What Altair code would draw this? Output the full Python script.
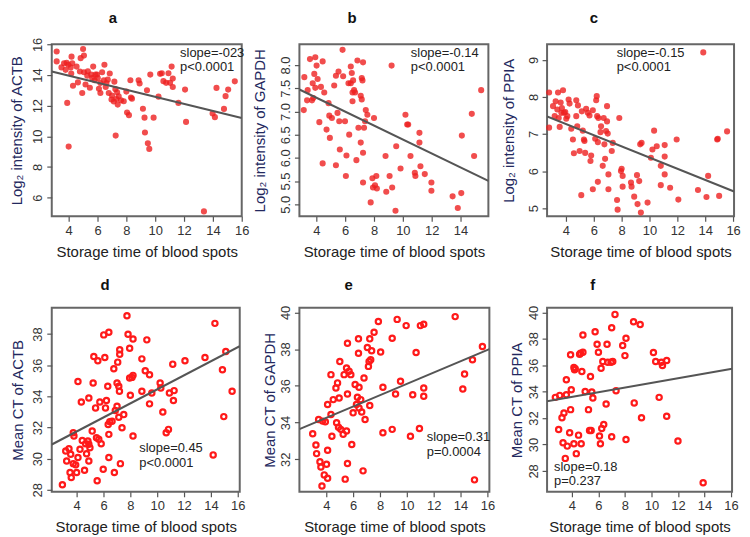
import altair as alt
import pandas as pd

FONT = "Liberation Sans"

# ---------------- data ----------------
a_x = [3.17, 3.17, 3.5, 3.68, 3.86, 3.98, 4.14, 4.18, 3.9, 4.0, 4.2, 4.3, 4.55, 4.64, 4.94, 5.0, 5.06, 5.06,
       5.17, 5.33, 5.47, 5.56, 5.63, 5.7, 5.8, 5.86, 6.02, 6.1, 6.2, 6.32, 6.44, 6.48, 6.57, 6.62, 6.71, 6.78,
       6.85, 6.97, 7.01, 7.13, 7.17, 7.24, 7.26, 7.31, 7.36, 7.4, 7.47, 7.63, 7.82, 8.0, 8.05, 8.18, 8.28, 8.32,
       8.39, 8.85, 8.92, 9.15, 9.26, 9.29, 9.43, 9.49, 9.59, 9.66, 9.89, 10.23, 10.34, 10.46, 10.57, 10.76,
       10.92, 11.03, 11.14, 11.22, 11.22, 11.61, 12.07, 12.14, 13.98, 14.14, 14.25, 14.77, 14.88, 15.06, 15.52,
       13.38, 3.79, 4.25, 4.83, 4.78, 5.29, 5.97, 6.2]
a_y = [15.54, 14.89, 14.5, 14.77, 14.8, 14.67, 14.5, 14.1, 12.18, 9.33, 15.2, 13.3, 14.55, 13.52, 12.83, 15.7,
       15.27, 14.18, 13.38, 14.25, 13.17, 14.03, 13.81, 14.55, 13.66, 14.03, 13.81, 13.1, 12.83, 14.18, 13.66,
       14.67, 13.22, 13.48, 13.7, 12.83, 14.1, 12.4, 12.66, 12.27, 13.57, 13.08, 10.05, 12.44, 12.87, 12.07,
       12.61, 12.35, 12.29, 12.92, 11.55, 11.38, 13.66, 12.53, 12.46, 13.66, 13.45, 11.8, 11.22, 10.25, 13.01,
       9.55, 9.18, 14.03, 11.22, 12.59, 14.08, 14.12, 13.6, 13.49, 14.12, 13.49, 14.55, 13.77, 13.22, 12.18,
       13.05, 10.94, 11.49, 11.25, 13.16, 11.79, 12.62, 13.05, 13.59, 5.1, 14.34, 14.77, 15.1, 14.23, 13.96,
       14.03, 13.48]

b_x = [3.17, 3.13, 3.4, 3.36, 3.56, 3.7, 3.75, 3.79, 3.86, 3.93, 3.93, 4.02, 4.09, 4.21, 4.32, 4.44, 4.44, 4.55,
       4.71, 4.85, 4.9, 4.94, 5.08, 5.24, 5.36, 5.36, 5.47, 5.54, 5.59, 5.63, 5.86, 5.82, 5.99, 6.05, 6.09, 6.23,
       6.28, 6.39, 6.39, 6.46, 6.51, 6.51, 6.55, 6.62, 6.69, 6.78, 6.85, 6.92, 7.08, 7.08, 7.15, 7.15, 7.2, 7.24,
       7.24, 7.24, 7.31, 7.38, 7.43, 7.54, 7.77, 7.89, 7.93, 8.0, 8.07, 8.16, 8.2, 8.8, 8.85, 9.08, 9.22, 9.26,
       9.54, 9.49, 9.84, 10.18, 10.3, 10.37, 10.53, 10.83, 10.87, 11.15, 11.15, 11.22, 11.52, 11.98, 11.98,
       13.45, 13.81, 14.05, 14.09, 14.78, 14.94, 15.43]
b_y = [7.74, 7.03, 7.46, 7.24, 8.13, 7.24, 7.61, 7.29, 7.81, 8.17, 7.51, 7.99, 7.7, 6.77, 7.53, 8.08, 5.88, 7.41,
       6.61, 7.18, 6.91, 6.43, 6.86, 7.56, 7.77, 5.84, 6.97, 7.86, 6.79, 6.18, 7.76, 8.33, 6.79, 5.61, 6.05, 7.61,
       6.5, 7.97, 7.61, 7.83, 7.41, 7.22, 7.67, 7.46, 7.41, 5.95, 8.1, 6.65, 7.34, 6.33, 7.72, 7.26, 7.67, 8.06,
       6.11, 5.47, 6.65, 6.79, 7.03, 6.93, 5.04, 5.56, 5.36, 6.86, 5.41, 5.61, 5.34, 6.04, 5.27, 5.61, 7.99, 5.36,
       6.25, 4.86, 5.77, 6.93, 6.72, 6.72, 6.04, 5.68, 5.61, 6.54, 6.33, 5.82, 5.65, 5.47, 5.29, 5.17, 4.92, 5.24,
       6.48, 6.95, 6.04, 7.46]

c_x = [2.79, 2.79, 3.07, 3.19, 3.26, 3.38, 3.43, 3.48, 3.55, 3.62, 3.67, 3.71, 3.79, 3.86, 3.95, 4.02, 4.1, 4.19,
       4.26, 4.38, 4.5, 4.57, 4.74, 4.74, 4.81, 4.86, 4.98, 5.1, 5.14, 5.21, 5.29, 5.33, 5.38, 5.45, 5.57, 5.69,
       5.76, 5.81, 5.93, 5.93, 6.1, 6.17, 6.21, 6.24, 6.29, 6.29, 6.33, 6.48, 6.52, 6.64, 6.71, 6.76, 6.81, 6.88,
       6.95, 6.95, 7.0, 7.05, 7.05, 7.29, 7.36, 7.67, 7.71, 7.83, 7.95, 8.0, 8.07, 8.07, 8.67, 8.71, 8.9, 9.1,
       9.14, 9.26, 9.33, 9.43, 9.38, 9.86, 10.1, 10.33, 11.95, 15.57, 14.86, 14.9, 10.21, 10.52, 11.09, 11.09,
       10.81, 11.09, 10.81, 11.48, 12.07, 13.48, 14.09, 14.21, 15.0, 13.86]
c_y = [8.12, 7.17, 7.75, 7.48, 7.88, 7.66, 8.12, 7.43, 7.19, 7.85, 7.57, 7.7, 8.18, 7.57, 7.59, 7.41, 7.48, 7.93,
       7.82, 7.14, 6.85, 6.48, 7.91, 7.48, 7.21, 7.77, 6.54, 5.35, 7.61, 7.09, 6.85, 6.81, 6.49, 7.68, 7.57, 7.5,
       6.27, 6.42, 7.64, 5.51, 6.87, 7.91, 8.02, 7.48, 6.78, 5.71, 7.43, 7.05, 7.21, 6.14, 7.43, 6.72, 6.33, 7.08,
       7.75, 7.34, 7.01, 5.91, 5.51, 6.54, 6.76, 5.22, 4.96, 7.43, 6.0, 6.06, 5.87, 5.58, 5.69, 5.58, 5.31, 5.89,
       5.11, 5.73, 6.72, 6.76, 4.88, 5.15, 6.36, 7.09, 6.85, 7.07, 6.85, 6.87, 6.58, 6.67, 6.7, 6.39, 6.14, 5.91,
       5.62, 5.55, 5.23, 5.49, 5.3, 5.87, 5.33, 9.2]

d_x = [2.94, 3.19, 3.26, 3.43, 3.51, 3.56, 3.6, 3.75, 3.75, 3.8, 3.93, 4.0, 4.1, 4.1, 4.25, 4.35, 4.42, 4.59, 4.67,
       4.74, 4.84, 4.91, 4.91, 4.91, 4.99, 5.16, 5.23, 5.28, 5.41, 5.48, 5.53, 5.58, 5.65, 5.73, 5.83, 5.98, 6.02,
       6.1, 6.15, 6.22, 6.32, 6.35, 6.4, 6.4, 6.4, 6.47, 6.64, 6.77, 6.81, 6.88, 7.01, 7.01, 7.06, 7.14, 7.14,
       7.19, 7.21, 7.21, 7.26, 7.38, 7.51, 7.75, 7.83, 7.95, 7.95, 8.0, 8.12, 8.2, 8.2, 8.2, 8.86, 8.86, 9.11,
       9.23, 9.43, 9.43, 9.6, 10.22, 10.27, 10.42, 10.67, 10.84, 10.91, 11.16, 11.21, 11.26, 12.07, 13.56, 14.17,
       14.3, 14.86, 14.96, 15.11, 15.58]
d_y = [28.32, 30.49, 29.85, 30.64, 29.11, 30.28, 28.79, 29.68, 31.66, 31.45, 29.6, 29.11, 34.96, 30.07, 30.6,
       33.64, 31.17, 29.26, 30.96, 30.32, 31.13, 33.9, 30.92, 29.85, 30.7, 31.77, 34.86, 36.56, 33.26, 31.34,
       28.58, 36.29, 31.24, 33.64, 30.96, 29.32, 37.95, 36.5, 33.26, 33.73, 34.65, 32.2, 31.56, 30.07, 38.12,
       32.37, 32.4, 35.77, 29.11, 33.09, 33.37, 34.86, 36.2, 34.65, 32.66, 34.33, 36.99, 36.71, 29.68, 31.98,
       32.83, 39.18, 37.99, 37.09, 35.18, 34.07, 35.22, 37.69, 35.35, 31.45, 36.41, 34.33, 35.65, 37.63, 35.39,
       33.52, 34.22, 34.86, 34.54, 33.0, 31.66, 31.88, 34.22, 36.07, 33.73, 34.37, 36.29, 36.5, 30.24, 38.69,
       35.71, 32.7, 36.88, 34.33]

e_x = [2.99, 3.23, 3.28, 3.43, 3.53, 3.6, 3.68, 3.73, 3.85, 3.93, 4.02, 4.1, 4.1, 4.1, 4.35, 4.35, 4.42, 4.52,
       4.72, 4.77, 4.84, 4.91, 4.96, 5.01, 5.08, 5.26, 5.33, 5.41, 5.51, 5.51, 5.58, 5.58, 5.58, 5.7, 5.83, 5.9,
       6.0, 6.15, 6.25, 6.32, 6.4, 6.4, 6.44, 6.44, 6.57, 6.64, 6.74, 6.81, 6.89, 7.06, 7.14, 7.19, 7.24, 7.24,
       7.31, 7.38, 7.56, 7.88, 8.05, 8.22, 8.22, 8.91, 8.91, 9.16, 9.28, 9.53, 9.95, 10.27, 10.44, 10.69, 10.94,
       11.01, 11.26, 11.26, 11.26, 13.6, 14.17, 14.3, 14.89, 15.04, 15.63]
e_y = [33.39, 32.78, 32.31, 34.17, 31.87, 31.58, 30.55, 34.08, 31.15, 34.04, 31.73, 30.97, 32.49, 34.98, 36.61,
       34.44, 33.26, 35.25, 35.88, 33.99, 36.16, 33.75, 35.34, 37.33, 33.63, 33.36, 36.61, 30.92, 33.54, 36.97,
       38.32, 35.56, 31.77, 36.79, 36.61, 32.81, 34.53, 36.07, 34.98, 35.38, 37.78, 38.56, 34.8, 35.92, 35.25,
       34.58, 31.37, 36.43, 34.17, 38.09, 37.06, 37.33, 34.93, 38.56, 37.42, 37.91, 38.92, 39.5, 37.84, 35.92,
       33.45, 38.59, 33.63, 35.56, 39.62, 36.25, 39.28, 33.26, 35.52, 37.82, 33.68, 39.28, 39.35, 35.88, 35.43,
       39.77, 35.83, 36.64, 37.42, 30.88, 38.14]

f_x = [2.75, 3.0, 3.08, 3.25, 3.33, 3.4, 3.5, 3.58, 3.58, 3.65, 3.83, 3.9, 3.9, 3.95, 4.15, 4.2, 4.15, 4.25, 4.33,
       4.5, 4.58, 4.65, 4.7, 4.75, 4.83, 4.83, 5.0, 5.25, 5.33, 5.4, 5.45, 5.5, 5.58, 5.75, 5.9, 6.0, 6.08, 6.15,
       6.2, 6.25, 6.33, 6.4, 6.58, 6.65, 6.7, 6.95, 7.0, 7.08, 7.0, 7.25, 7.33, 7.83, 8.0, 8.08, 8.08, 8.65, 8.7,
       9.15, 9.25, 10.15, 10.32, 10.58, 10.75, 10.83, 11.15, 11.15, 12.0, 13.9]
f_y = [33.57, 31.14, 33.72, 32.02, 30.13, 32.39, 28.95, 34.9, 33.77, 29.88, 30.89, 32.64, 36.79, 34.15, 35.83,
       35.66, 30.06, 35.73, 29.31, 30.71, 36.84, 36.91, 30.06, 35.53, 36.99, 38.29, 34.02, 32.64, 31.06, 35.15,
       31.06, 33.97, 33.52, 38.54, 37.59, 36.99, 30.64, 30.06, 35.78, 31.21, 36.28, 31.51, 33.07, 37.59, 36.23,
       36.23, 38.84, 36.28, 30.59, 39.85, 34.07, 37.49, 36.73, 38.04, 30.38, 39.3, 33.15, 39.09, 32.02, 36.96,
       36.28, 33.57, 36.23, 35.98, 36.36, 32.14, 30.26, 27.1]

# regression lines: intercept, slope
fits = {"a": (14.88, -0.23), "b": (7.90, -0.1505), "c": (7.87, -0.1507),
        "d": (29.94, 0.451), "e": (33.03, 0.308), "f": (32.90, 0.176)}

annotations = {"a": ["slope=-023", "p<0.0001"], "b": ["slope=-0.14", "p<0.0001"],
               "c": ["slope=-0.15", "p<0.0001"], "d": ["slope=0.45", "p<0.0001"],
               "e": ["slope=0.31", "p=0.0004"], "f": ["slope=0.18", "p=0.237"]}

y_titles = {"a": "Log\u2082 intensity of ACTB", "b": "Log\u2082 intensity of GAPDH",
            "c": "Log\u2082 intensity of  PPIA", "d": "Mean CT of ACTB",
            "e": "Mean CT of GAPDH", "f": "Mean CT of PPIA"}

x_ticks = [4, 6, 8, 10, 12, 14, 16]
y_ticks = {"a": [6, 8, 10, 12, 14, 16], "b": [5.0, 5.5, 6.0, 6.5, 7.0, 7.5, 8.0],
           "c": [5, 6, 7, 8, 9], "d": [28, 30, 32, 34, 36, 38],
           "e": [32, 34, 36, 38, 40], "f": [28, 30, 32, 34, 36, 38, 40]}

# ---------------- layout / style ----------------
layout = {
    "a": dict(w=191, h=173, xd=[2.828, 16.0], yd=[4.78, 16.01], tdx=-34, toff=11, ytx=-35.5, tx=129, ty=3, lh=14),
    "b": dict(w=190, h=173, xd=[2.828, 15.93], yd=[4.74, 8.45], tdx=-42, toff=18, ytx=-40, tx=112, ty=3, lh=14),
    "c": dict(w=188, h=173, xd=[2.643, 16.07], yd=[4.78, 9.42], tdx=-47, toff=18, ytx=-39, tx=70, ty=3, lh=14),
    "d": dict(w=189, h=185, xd=[2.148, 16.148], yd=[27.87, 39.69], tdx=-41, toff=15, ytx=-34, tx=88, ty=135, lh=15),
    "e": dict(w=191, h=185, xd=[2.0, 16.148], yd=[30.23, 40.25], tdx=-46, toff=12.4, ytx=-30, tx=128, ty=124, lh=15),
    "f": dict(w=186, h=185, xd=[2.125, 16.08], yd=[26.42, 40.35], tdx=-47, toff=12.4, ytx=-31, tx=7, ty=154, lh=14.5),
}

data = {"a": (a_x, a_y), "b": (b_x, b_y), "c": (c_x, c_y),
        "d": (d_x, d_y), "e": (e_x, e_y), "f": (f_x, f_y)}

TITLE_COLOR = "#23285e"


def panel(key):
    L = layout[key]
    xs, ys = data[key]
    df = pd.DataFrame({"x": xs, "y": ys})
    b0, b1 = fits[key]
    ldf = pd.DataFrame({"x": L["xd"], "y": [b0 + b1 * v for v in L["xd"]]})

    xsc = alt.Scale(domain=L["xd"], nice=False, zero=False)
    ysc = alt.Scale(domain=L["yd"], nice=False, zero=False)
    xax = alt.Axis(values=x_ticks, title="Storage time of blood spots", grid=False, domain=False,
                   tickSize=5, tickColor="#555", tickWidth=1.2, labelFont=FONT, labelFontSize=13,
                   labelColor="#333", labelPadding=3, labelFlush=False, labelOverlap=False,
                   labelBound=False, tickCount=len(x_ticks),
                   titleFont=FONT, titleFontSize=15, titleFontWeight="normal", titleColor="#222",
                   titleY=35, titleBaseline="middle")
    yax = alt.Axis(values=y_ticks[key], title=y_titles[key], grid=False, domain=False,
                   tickSize=5, tickColor="#555", tickWidth=1.2, labelFont=FONT, labelFontSize=13,
                   labelColor="#333", labelAngle=270, labelAlign="center", labelBaseline="bottom",
                   labelPadding=2, labelFlush=False, labelOverlap=False, labelBound=False,
                   tickCount=len(y_ticks[key]),
                   format=".1f" if key == "b" else "d",
                   titleFont=FONT, titleFontSize=15, titleFontWeight="normal", titleColor=TITLE_COLOR,
                   titleAngle=270, titleX=L["ytx"], titleY=L["h"] / 2, titleBaseline="middle",
                   titleAlign="center")

    if key in ("a", "b", "c"):
        pts = alt.Chart(df).mark_circle(size=38, color="#ee2020", opacity=0.8)
    else:
        pts = alt.Chart(df).mark_point(shape="circle", filled=False, size=28, strokeWidth=2.2,
                                       color="#ff1a1a", opacity=1)
    pts = pts.encode(x=alt.X("x:Q", scale=xsc, axis=xax), y=alt.Y("y:Q", scale=ysc, axis=yax))

    line = alt.Chart(ldf).mark_line(color="#555555", strokeWidth=2, clip=True).encode(
        x=alt.X("x:Q", scale=xsc, axis=xax), y=alt.Y("y:Q", scale=ysc, axis=yax))

    txt = alt.Chart(pd.DataFrame({"k": [0]})).mark_text(
        align="left", baseline="top", font=FONT, fontSize=13, color="#222", lineHeight=L["lh"]
    ).encode(x=alt.value(L["tx"]), y=alt.value(L["ty"]), text=alt.value(annotations[key]))

    return alt.layer(pts, line, txt).properties(
        width=L["w"], height=L["h"],
        title=alt.TitleParams(text=key, font=FONT, fontSize=15, fontWeight="bold", color="#111",
                              anchor="middle", frame="group", dx=L["tdx"], offset=L["toff"]))


chart = alt.concat(
    *[panel(k) for k in ["a", "b", "c", "d", "e", "f"]],
    columns=3, spacing={"row": 92, "column": 58}, bounds="flush", align="each"
).properties(padding=0, background="white").configure_view(
    stroke="#666666", strokeWidth=2
).configure_axis(labelOverlap=False)

chart.save("out.html", embed_options={"renderer": "svg", "actions": False})
